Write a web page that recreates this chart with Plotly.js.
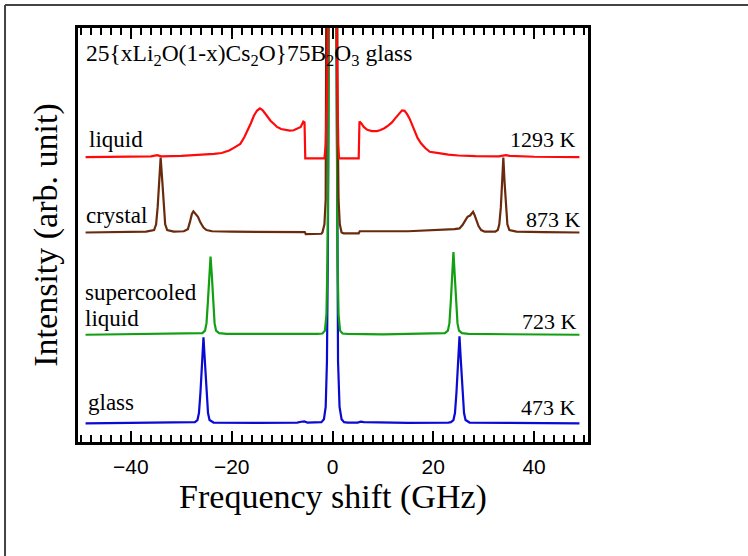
<!DOCTYPE html>
<html>
<head>
<meta charset="utf-8">
<script src="https://cdn.plot.ly/plotly-3.0.1.min.js"></script>
<style>html,body{margin:0;padding:0;background:#fff;}#chart{width:748px;height:556px;}</style>
</head>
<body>
<div id="chart"></div>
<script>
// Frequency shift (GHz) and intensity (arb. unit)
const glassX = [-49,-40,-30,-27.5,-27.3,-26.8,-26.5,-26.2,-25.9,-25.6,-25.3,-25.0,-24.7,-24.4,-23.9,-23.6,-15,-7,-6.2,-5.6,-5.0,-3,-2.2,-1.7,-1.35,-1.1,-0.9,-0.7,-0.4,0,0.4,0.7,0.9,1.1,1.4,1.8,2.3,3,5,5.6,6.2,15,23,23.5,24.0,24.3,24.6,24.9,25.2,25.5,25.8,26.1,26.4,26.9,27.2,35,49];
const glassY = [0,0.1,0.1,0.2,0.3,0.8,2.5,7.5,14.5,20.8,14.5,7.5,2.5,0.8,0.3,0.2,0.1,0.2,0.4,0.5,0.2,0.2,0.3,1.0,4,15,45,120,400,800,400,120,45,15,4,1.0,0.3,0.2,0.2,0.4,0.3,0.1,0.2,0.3,0.8,2.5,7.5,14.5,21.0,14.5,7.5,2.5,0.8,0.3,0.2,0.1,0];

const superX = [-49,-40,-30,-26.5,-25.8,-25.3,-25.0,-24.7,-24.45,-24.2,-23.95,-23.7,-23.4,-23.1,-22.5,-21,-10,-3,-2.0,-1.5,-1.2,-1.0,-0.8,-0.6,-0.3,0,0.3,0.6,0.8,1.0,1.2,1.5,2.0,3,10,20,22.3,22.9,23.2,23.5,23.75,24.0,24.25,24.5,24.8,25.1,25.7,27,35,49];
const superY = [0,0.1,0.2,0.3,0.4,1.0,2.8,8.5,14.5,18.9,14.5,8.5,2.8,1.0,0.4,0.2,0.1,0.2,0.3,1,5,18,50,110,300,600,300,110,50,18,5,1,0.3,0.2,0.1,0.2,0.4,1.0,2.8,8.5,14.5,20.0,14.5,8.5,2.8,1.0,0.4,0.2,0.1,0];

const crystalX = [-49,-40,-37,-35.4,-35.0,-34.7,-34.45,-34.1,-33.75,-33.5,-33.2,-32.8,-31.5,-29.5,-28.7,-28.3,-27.9,-27.6,-27.2,-26.7,-26.2,-25.6,-25.0,-23.9,-20,-10,-5.5,-5.3,-2.2,-2.0,-1.6,-1.35,-1.15,-0.9,-0.5,0,0.5,0.8,1.0,1.2,1.45,1.8,2.2,5.2,5.4,15,22,24.2,25.2,25.8,26.3,26.8,27.3,27.6,27.9,28.2,28.6,29.0,29.5,30.2,32.3,32.8,33.1,33.4,33.65,33.9,34.15,34.4,34.7,35.1,36.5,42,49];
const crystalY = [0,0.1,0.2,0.6,2,6,12,18.1,12,6,2,0.6,0.2,0.3,0.8,2.5,4.5,5.1,4.5,3.8,2.4,1.2,0.6,0.3,0.2,0.1,0.1,-0.4,-0.3,0,2,8,30,90,300,600,300,90,30,8,2,0,-0.2,-0.2,0.3,0.3,0.6,0.8,1.0,1.8,2.8,3.8,4.1,4.5,5.0,4.2,3.0,1.5,0.6,0.2,0.2,0.6,2,6,12,18.1,12,6,2,0.6,0.2,0.1,0];

const liquidX = [-49,-40,-36,-34.8,-34,-30,-26,-23.5,-22,-20.5,-19.5,-18.3,-17.5,-16.9,-16.2,-15.6,-15.0,-14.4,-13.9,-13.4,-12.8,-12.3,-11.6,-11.0,-10.2,-9.3,-8.5,-7.7,-7.0,-6.3,-5.8,-5.55,-5.4,-1.6,-1.35,-1.1,-0.85,-0.5,0,0.5,0.75,0.95,1.15,1.3,5.2,5.35,5.7,6.2,6.9,7.8,8.8,9.4,10.3,11.1,11.8,12.4,13.1,13.8,14.3,14.8,15.3,15.8,16.3,16.9,17.6,18.4,19.3,20.4,21.4,23,25,28.4,33,34.4,35.2,40,49];
const liquidY = [0,0.1,0.2,0.5,0.2,0.3,0.5,0.8,1.0,1.6,2.3,3.2,4.8,6.2,8.2,10.0,11.2,11.8,11.4,10.6,9.6,8.8,8.0,7.3,6.8,6.5,6.4,6.5,6.9,7.3,8.6,8.4,-0.3,-0.3,3,14,35,150,300,150,35,14,3,-0.3,-0.3,8.6,8.2,7.3,6.6,6.3,6.3,6.5,7.0,7.7,8.4,9.3,10.4,11.3,11.2,10.4,9.3,7.7,6.1,4.6,3.3,2.2,1.3,1.0,0.9,0.6,0.4,0.25,0.2,0.5,0.3,0.1,0];

// vertical offsets of the stacked spectra
const offsets = {glass: 4.5, supercooled: 25.9, crystal: 50.6, liquid: 68.8};

const xTitle = 'Frequency shift (GHz)';
const yTitle = 'Intensity (arb. unit)';
const sampleLabel = '25{xLi<sub>2</sub>O(1-x)Cs<sub>2</sub>O}75B<sub>2</sub>O<sub>3</sub> glass';
const phaseLabels = ['liquid', 'crystal', 'supercooled', 'liquid', 'glass'];
const tempLabels = ['1293 K', '873 K', '723 K', '473 K'];

const shift = (arr, off) => arr.map(v => v + off);

const traces = [
  {x: glassX, y: shift(glassY, offsets.glass), color: '#0a0ad2'},
  {x: superX, y: shift(superY, offsets.supercooled), color: '#12a012'},
  {x: crystalX, y: shift(crystalY, offsets.crystal), color: '#6a2a0c'},
  {x: liquidX, y: shift(liquidY, offsets.liquid), color: '#ff0a0a'}
].map(t => ({x: t.x, y: t.y, type: 'scatter', mode: 'lines', line: {color: t.color, width: 2.2}, hoverinfo: 'skip', showlegend: false}));

const serif = 'Liberation Serif, Times New Roman, serif';
const ann = (text, x, y, xanchor, size) => ({text: text, x: x, y: y, xref: 'paper', yref: 'paper', xanchor: xanchor, yanchor: 'middle', showarrow: false, font: {family: serif, size: size || 22, color: '#000'}});

const layout = {
  width: 748, height: 556,
  margin: {l: 78, r: 160, t: 28, b: 114},
  paper_bgcolor: '#fff', plot_bgcolor: '#fff',
  xaxis: {
    range: [-50.5, 50.7], dtick: 20, tick0: 0,
    ticks: 'inside', ticklen: 11, tickwidth: 2, tickcolor: '#000',
    minor: {dtick: 2, ticks: 'inside', ticklen: 7, tickwidth: 2, tickcolor: '#000'},
    showline: true, linewidth: 3, linecolor: '#000', mirror: 'ticks',
    showgrid: false, zeroline: false,
    tickfont: {family: 'Liberation Sans, Arial, sans-serif', size: 21, color: '#000'},
    ticklabelstandoff: 4,
    title: {text: xTitle, font: {family: serif, size: 34, color: '#000'}, standoff: 6}
  },
  yaxis: {
    range: [0, 100], showticklabels: false, ticks: '',
    showline: true, linewidth: 3, linecolor: '#000', mirror: true,
    showgrid: false, zeroline: false,
    title: {text: yTitle, font: {family: serif, size: 34, color: '#000'}, standoff: 8}
  },
  annotations: [
    ann(sampleLabel, 0.0118, 0.9348, 'left', 23.5),
    ann(phaseLabels[0], 0.0176, 0.7295, 'left', 23),
    ann(tempLabels[0], 0.980, 0.7295, 'right'),
    ann(phaseLabels[1], 0.0118, 0.5459, 'left', 23),
    ann(tempLabels[1], 0.990, 0.5377, 'right'),
    ann(phaseLabels[2], 0.0098, 0.3621, 'left', 23),
    ann(phaseLabels[3], 0.0098, 0.2978, 'left', 23),
    ann(tempLabels[2], 0.982, 0.2913, 'right'),
    ann(phaseLabels[4], 0.0157, 0.0966, 'left', 23),
    ann(tempLabels[3], 0.980, 0.0836, 'right')
  ],
  shapes: [
    {type: 'line', xref: 'paper', yref: 'paper', x0: -0.1431, x1: -0.1431, y0: 1.0556, y1: -0.3, line: {color: '#444', width: 2}},
    {type: 'line', xref: 'paper', yref: 'paper', x0: -0.1431, x1: 1.33, y0: 1.0556, y1: 1.0556, line: {color: '#444', width: 2}}
  ]
};

Plotly.newPlot('chart', traces, layout, {staticPlot: true, displayModeBar: false});
</script>
</body>
</html>
